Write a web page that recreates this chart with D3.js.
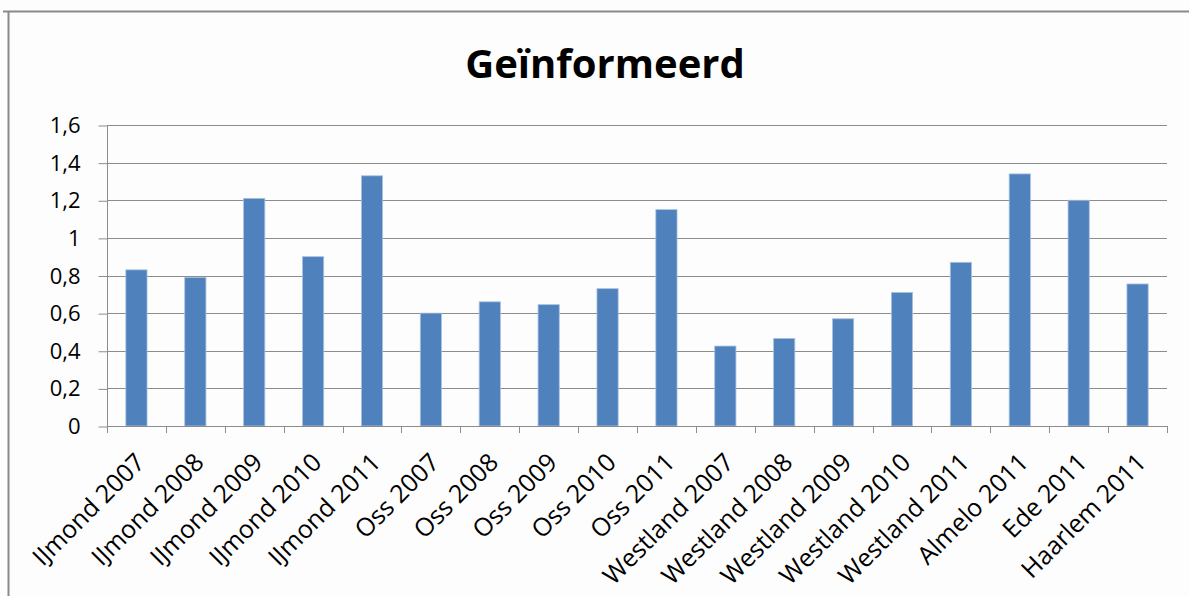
<!DOCTYPE html>
<html>
<head>
<meta charset="utf-8">
<script src="https://cdn.jsdelivr.net/npm/d3@7"></script>
<style>
  body { margin: 0; background: #fff; }
  svg { display: block; }
</style>
</head>
<body>
<div id="chart"></div>
<script>
const categories = [
  'IJmond 2007', 'IJmond 2008', 'IJmond 2009', 'IJmond 2010', 'IJmond 2011',
  'Oss 2007', 'Oss 2008', 'Oss 2009', 'Oss 2010', 'Oss 2011',
  'Westland 2007', 'Westland 2008', 'Westland 2009', 'Westland 2010', 'Westland 2011',
  'Almelo 2011', 'Ede 2011', 'Haarlem 2011'
];
const values = [
  0.83, 0.79, 1.21, 0.90, 1.33,
  0.60, 0.66, 0.645, 0.73, 1.15,
  0.425, 0.465, 0.57, 0.71, 0.87,
  1.34, 1.20, 0.755
];
const yTicks = [0, 0.2, 0.4, 0.6, 0.8, 1, 1.2, 1.4, 1.6];
const title = 'Geïnformeerd';

const W = 1189, H = 596;
const margin = { top: 125, right: 22, bottom: 170, left: 107 };

const svg = d3.select('#chart')
  .append('svg')
  .attr('width', W)
  .attr('height', H);

svg.append('rect')
  .attr('width', W)
  .attr('height', H)
  .attr('fill', '#fdfdfd');

// outer chart frame (only top and left visible)
svg.append('path')
  .attr('d', `M3,11.5H${W}M8.5,11.5V${H}`)
  .attr('stroke', '#8a8a8a')
  .attr('stroke-width', 2)
  .attr('fill', 'none');

const x = d3.scaleBand()
  .domain(categories)
  .range([margin.left, W - margin.right])
  .paddingInner(0.64)
  .paddingOuter(0.32);

const y = d3.scaleLinear()
  .domain([0, 1.6])
  .range([H - margin.bottom, margin.top]);

const fmt = d => d3.format('.1f')(d).replace('.', ',').replace(/,0$/, '');

// gridlines
svg.append('g')
  .selectAll('line')
  .data(yTicks.slice(1))
  .join('line')
  .attr('x1', margin.left)
  .attr('x2', W - margin.right)
  .attr('y1', d => Math.round(y(d)) + 0.5)
  .attr('y2', d => Math.round(y(d)) + 0.5)
  .attr('stroke', '#8c8c8c')
  .attr('stroke-width', 1);

// y axis
const yAxis = svg.append('g')
  .attr('transform', `translate(${margin.left + 0.5},0.5)`)
  .call(d3.axisLeft(y).tickValues(yTicks).tickFormat(fmt).tickSize(9).tickPadding(18));
yAxis.select('.domain').attr('stroke', '#8c8c8c').attr('d', `M0,${y(1.6)}V${y(0)}`);
yAxis.selectAll('.tick line').attr('stroke', '#8c8c8c');
yAxis.selectAll('.tick text')
  .attr('fill', '#000')
  .attr('font-family', '"Open Sans", sans-serif')
  .attr('font-size', 22);

// bars
svg.append('g')
  .selectAll('rect')
  .data(values)
  .join('rect')
  .attr('x', (d, i) => x(categories[i]))
  .attr('y', d => y(d))
  .attr('width', x.bandwidth())
  .attr('height', d => y(0) - y(d))
  .attr('fill', '#4f81bd')
  .attr('stroke', '#a9c1e0')
  .attr('stroke-width', 0.8);

// x axis
const step = x.step();
const bounds = d3.range(categories.length + 1).map(i => margin.left + i * step);
const xg = svg.append('g');
xg.append('line')
  .attr('x1', margin.left)
  .attr('x2', W - margin.right)
  .attr('y1', Math.round(y(0)) + 0.5)
  .attr('y2', Math.round(y(0)) + 0.5)
  .attr('stroke', '#8c8c8c');
xg.selectAll('.xt')
  .data(bounds)
  .join('line')
  .attr('class', 'xt')
  .attr('x1', d => Math.round(d) + 0.5)
  .attr('x2', d => Math.round(d) + 0.5)
  .attr('y1', y(0))
  .attr('y2', y(0) + 7)
  .attr('stroke', '#8c8c8c');

xg.selectAll('text')
  .data(categories)
  .join('text')
  .attr('transform', d => `translate(${x(d) + x.bandwidth() / 2 + 10},${y(0) + 38}) rotate(-45)`)
  .attr('text-anchor', 'end')
  .attr('font-family', '"Open Sans", sans-serif')
  .attr('font-size', 25)
  .attr('fill', '#000')
  .text(d => d);

// title
svg.append('text')
  .attr('x', 605)
  .attr('y', 78)
  .attr('text-anchor', 'middle')
  .attr('font-family', '"Open Sans", sans-serif')
  .attr('font-weight', 'bold')
  .attr('font-size', 40)
  .attr('fill', '#000')
  .text(title);
</script>
</body>
</html>
